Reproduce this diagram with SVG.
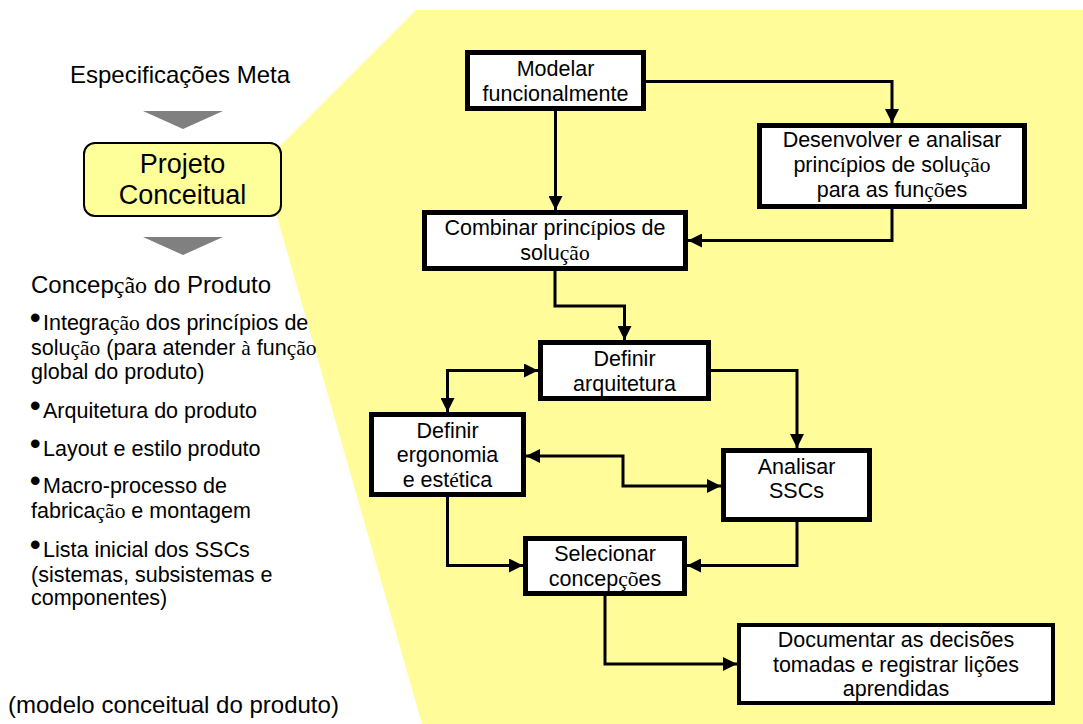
<svg xmlns="http://www.w3.org/2000/svg" width="1083" height="724" viewBox="0 0 1083 724">
<style>
text{font-family:"Liberation Sans",Arial,sans-serif;fill:#000}
.s{font-family:"Liberation Serif","Times New Roman",serif}
.box{fill:#fff;stroke:#000;stroke-width:5}
.bt{font-size:21.5px;text-anchor:middle}
.lt{font-size:21.5px}
.bu{font-size:30px;font-weight:bold}
.con{fill:none;stroke:#000;stroke-width:3;marker-end:url(#ah)}
.bi{marker-start:url(#ah)}
</style>
<defs>
<marker id="ah" markerUnits="userSpaceOnUse" markerWidth="14" markerHeight="14" refX="14" refY="7" orient="auto-start-reverse" viewBox="0 0 14 14">
<path d="M0,0 L14,7 L0,14 z" fill="#000"/>
</marker>
</defs>
<rect width="1083" height="724" fill="#fff"/>
<polygon id="bg" points="416,10 1083,10 1083,724 422,724 262,164" fill="#FFFC99"/>

<g id="left">
<text x="180" y="83" font-size="24" text-anchor="middle">Especificações Meta</text>
<polygon points="143,111 223,111 183,129" fill="#808080"/>
<rect x="84" y="143" width="197" height="73" rx="11" fill="#FFFF99" stroke="#000" stroke-width="2"/>
<text x="182.5" y="173" font-size="27" text-anchor="middle">Projeto</text>
<text x="182.5" y="204" font-size="27" text-anchor="middle">Conceitual</text>
<polygon points="143,237 223,237 183,255" fill="#808080"/>
<text x="31" y="293" font-size="24">Concep<tspan class="s">ção</tspan> do Produto</text>
<text x="30" y="328" class="lt"><tspan class="bu">•</tspan><tspan x="43" y="330">Integra<tspan class="s">ção</tspan> dos princípios de</tspan></text>
<text x="31" y="355" class="lt">solu<tspan class="s">ção</tspan> (para atender <tspan class="s">à</tspan> fun<tspan class="s">ção</tspan></text>
<text x="31" y="379" class="lt">global do produto)</text>
<text x="30" y="416" class="lt"><tspan class="bu">•</tspan><tspan x="43" y="418">Arquitetura do produto</tspan></text>
<text x="30" y="454" class="lt"><tspan class="bu">•</tspan><tspan x="43" y="456">Layout e estilo produto</tspan></text>
<text x="30" y="491" class="lt"><tspan class="bu">•</tspan><tspan x="43" y="493">Macro-processo de</tspan></text>
<text x="31" y="518" class="lt">fabrica<tspan class="s">ção</tspan> e montagem</text>
<text x="30" y="555" class="lt"><tspan class="bu">•</tspan><tspan x="43" y="557">Lista inicial dos SSCs</tspan></text>
<text x="31" y="582" class="lt">(sistemas, subsistemas e</text>
<text x="31" y="605" class="lt">componentes)</text>
<text x="8" y="713" font-size="24">(modelo conceitual do produto)</text>
</g>

<g id="connectors">
<path class="con" d="M646,81.5 H892 V123"/>
<path class="con" d="M555.5,111 V210"/>
<path class="con" d="M892,209 V240.5 H688"/>
<path class="con" d="M555,271 V306 H624.5 V340"/>
<path class="con bi" d="M447.5,412 V370.5 H538"/>
<path class="con" d="M711,370.5 H797 V448"/>
<path class="con bi" d="M526,456 H623 V486 H721"/>
<path class="con" d="M447.5,497 V565.5 H523"/>
<path class="con" d="M797,522 V565.5 H687"/>
<path class="con" d="M605,596 V664 H737"/>
</g>

<g id="n1">
<rect class="box" x="467.5" y="52.5" width="176" height="56"/>
<text class="bt" x="555.5" y="76">Modelar</text>
<text class="bt" x="555.5" y="101">funcionalmente</text>
</g>
<g id="n2">
<rect class="box" x="759.5" y="125.5" width="265" height="81"/>
<text class="bt" x="892" y="147">Desenvolver e analisar</text>
<text class="bt" x="892" y="172">princ<tspan class="s">í</tspan>pios de solu<tspan class="s">ção</tspan></text>
<text class="bt" x="892" y="197">para as fun<tspan class="s">çõ</tspan>es</text>
</g>
<g id="n3">
<rect class="box" x="424.5" y="212.5" width="261" height="56"/>
<text class="bt" x="555" y="235">Combinar princ<tspan class="s">í</tspan>pios de</text>
<text class="bt" x="555" y="260">solu<tspan class="s">ção</tspan></text>
</g>
<g id="n4">
<rect class="box" x="540.5" y="342.5" width="168" height="56"/>
<text class="bt" x="624.5" y="366">Definir</text>
<text class="bt" x="624.5" y="391">arquitetura</text>
</g>
<g id="n5">
<rect class="box" x="371.5" y="414.5" width="152" height="80"/>
<text class="bt" x="447.5" y="438">Definir</text>
<text class="bt" x="447.5" y="462">ergonomia</text>
<text class="bt" x="447.5" y="487">e est<tspan class="s">é</tspan>tica</text>
</g>
<g id="n6">
<rect class="box" x="723.5" y="450.5" width="146" height="69"/>
<text class="bt" x="796.5" y="474">Analisar</text>
<text class="bt" x="796.5" y="498">SSCs</text>
</g>
<g id="n7">
<rect class="box" x="525.5" y="538.5" width="159" height="55"/>
<text class="bt" x="605" y="561">Selecionar</text>
<text class="bt" x="605" y="586">concep<tspan class="s">çõ</tspan>es</text>
</g>
<g id="n8">
<rect class="box" x="739" y="625" width="314" height="78" style="stroke-width:4"/>
<text class="bt" x="896" y="647">Documentar as decisões</text>
<text class="bt" x="896" y="672">tomadas e registrar lições</text>
<text class="bt" x="896" y="696">aprendidas</text>
</g>
</svg>
